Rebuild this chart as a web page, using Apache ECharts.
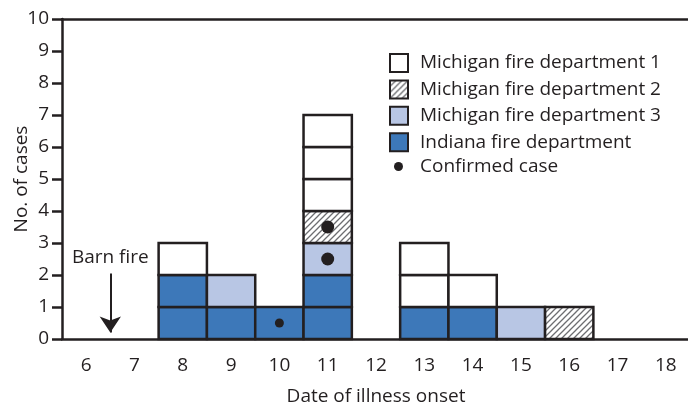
<!DOCTYPE html>
<html>
<head>
<meta charset="utf-8">
<script src="https://cdn.jsdelivr.net/npm/echarts@6/dist/echarts.min.js"></script>
<style>
  html, body { margin: 0; padding: 0; background: #fff; }
  #main { width: 688px; height: 402px; }
</style>
</head>
<body>
<div id="main"></div>
<script>
// date of illness onset
const days = ['6', '7', '8', '9', '10', '11', '12', '13', '14', '15', '16', '17', '18'];
// cases per day and department
const indiana = [0, 0, 2, 1, 1, 2, 0, 1, 1, 0, 0, 0, 0];
const michigan3 = [0, 0, 0, 1, 0, 1, 0, 0, 0, 1, 0, 0, 0];
const michigan2 = [0, 0, 0, 0, 0, 1, 0, 0, 0, 0, 1, 0, 0];
const michigan1 = [0, 0, 1, 0, 0, 3, 0, 2, 1, 0, 0, 0, 0];
// confirmed cases (day, height in stack)
const confirmedDays = ['10', '11', '11'];
const confirmedY = [0.5, 2.5, 3.5];
const yTicks = [0, 1, 2, 3, 4, 5, 6, 7, 8, 9, 10];

const ink = '#231f20';
const font = 'Open Sans';
const fs = 19;

// hatch for fire department 2
const hatch = document.createElement('canvas');
hatch.width = 6; hatch.height = 6;
const hc = hatch.getContext('2d');
hc.fillStyle = '#fff';
hc.fillRect(0, 0, 6, 6);
hc.strokeStyle = '#6d6e71';
hc.lineWidth = 1.3;
hc.beginPath();
hc.moveTo(0, 6); hc.lineTo(6, 0);
hc.moveTo(-1, 1); hc.lineTo(1, -1);
hc.moveTo(5, 7); hc.lineTo(7, 5);
hc.stroke();
const hatchFill = { image: hatch, repeat: 'repeat' };

// stack order, bottom to top
const stackOrder = [
  { name: 'Indiana fire department', counts: indiana, fill: '#3d78b9' },
  { name: 'Michigan fire department 3', counts: michigan3, fill: '#b8c6e4' },
  { name: 'Michigan fire department 2', counts: michigan2, fill: hatchFill },
  { name: 'Michigan fire department 1', counts: michigan1, fill: '#ffffff' }
];

// one box per case: [dayIndex, base]
const boxes = stackOrder.map(() => []);
days.forEach((d, i) => {
  let base = 0;
  stackOrder.forEach((dep, k) => {
    for (let c = 0; c < dep.counts[i]; c++) {
      boxes[k].push([i, base]);
      base += 1;
    }
  });
});

function boxRenderer(fill) {
  return function (params, api) {
    const x = api.value(0);
    const base = api.value(1);
    const w = api.size([1, 0])[0];
    const p0 = api.coord([x, base]);
    const p1 = api.coord([x, base + 1]);
    return {
      type: 'rect',
      shape: { x: p0[0] - w / 2, y: p1[1], width: w, height: p0[1] - p1[1] },
      style: { fill: fill, stroke: ink, lineWidth: 2.5 }
    };
  };
}

const series = stackOrder.map((dep, k) => ({
  name: dep.name,
  type: 'custom',
  xAxisIndex: 0,
  yAxisIndex: 0,
  renderItem: boxRenderer(dep.fill),
  itemStyle: { color: dep.fill, borderColor: ink, borderWidth: 2 },
  data: boxes[k],
  z: 2
}));

series.push({
  name: 'Confirmed case',
  type: 'scatter',
  xAxisIndex: 0,
  yAxisIndex: 0,
  symbol: 'circle',
  symbolSize: (v, p) => (p.dataIndex === 0 ? 9 : 13),
  itemStyle: { color: ink, opacity: 1 },
  data: confirmedDays.map((d, i) => [d, confirmedY[i]]),
  z: 5
});

// barn fire arrow
series.push({
  type: 'line',
  xAxisIndex: 1,
  yAxisIndex: 0,
  data: [],
  markLine: {
    silent: true,
    symbol: ['none', 'arrow'],
    symbolSize: 16,
    lineStyle: { color: ink, width: 2, type: 'solid', opacity: 1 },
    itemStyle: { color: ink },
    label: {
      show: true,
      position: 'start',
      formatter: 'Barn fire',
      color: ink,
      fontFamily: font,
      fontSize: fs,
      distance: 6
    },
    data: [[{ coord: [6.5, 2.05] }, { coord: [6.5, 0.2] }]]
  }
});

const chart = echarts.init(document.getElementById('main'));
chart.setOption({
  animation: false,
  textStyle: { fontFamily: font },
  grid: { left: 62, top: 19, width: 628, height: 320, containLabel: false, outerBoundsMode: 'none' },
  legend: [
    {
      orient: 'vertical',
      left: 389,
      top: 53,
      padding: 0,
      icon: 'rect',
      itemWidth: 18,
      itemHeight: 18,
      itemGap: 6.4,
      selectedMode: false,
      data: ['Michigan fire department 1', 'Michigan fire department 2', 'Michigan fire department 3', 'Indiana fire department'],
      textStyle: { color: ink, fontSize: fs, lineHeight: 18, fontFamily: font, padding: [0, 0, 0, 7] }
    },
    {
      orient: 'vertical',
      left: 394,
      top: 157,
      padding: 0,
      itemWidth: 9,
      itemHeight: 9,
      icon: 'circle',
      selectedMode: false,
      data: ['Confirmed case'],
      textStyle: { color: ink, fontSize: fs, lineHeight: 18, fontFamily: font, padding: [0, 0, 0, 12] }
    }
  ],
  xAxis: [
    {
      type: 'category',
      data: days,
      boundaryGap: true,
      name: 'Date of illness onset',
      nameLocation: 'middle',
      nameGap: 48,
      nameMoveOverlap: false,
      nameTextStyle: { color: ink, fontSize: fs, fontFamily: font },
      axisLine: { lineStyle: { color: ink, width: 2.5 } },
      axisTick: { alignWithLabel: true, inside: false, length: 10, lineStyle: { color: ink, width: 2.5 } },
      axisLabel: { color: ink, fontSize: fs, fontFamily: font, margin: 17 },
      splitLine: { show: false }
    },
    {
      type: 'value',
      position: 'top',
      min: 5.5,
      max: 18.5,
      axisLine: { show: true, lineStyle: { color: ink, width: 2.5 } },
      axisTick: { show: false },
      axisLabel: { show: false },
      splitLine: { show: false }
    }
  ],
  yAxis: {
    type: 'value',
    min: 0,
    max: 10,
    interval: 1,
    name: 'No. of cases',
    nameLocation: 'middle',
    nameGap: 31,
    nameMoveOverlap: false,
    nameTextStyle: { color: ink, fontSize: fs, fontFamily: font },
    axisLine: { show: true, lineStyle: { color: ink, width: 2.5 } },
    axisTick: { show: true, inside: false, length: 10, lineStyle: { color: ink, width: 2.5 } },
    axisLabel: { color: ink, fontSize: fs, fontFamily: font, margin: 13, formatter: v => (yTicks.includes(v) ? String(v) : '') },
    splitLine: { show: false }
  },
  series: series
});
</script>
</body>
</html>
